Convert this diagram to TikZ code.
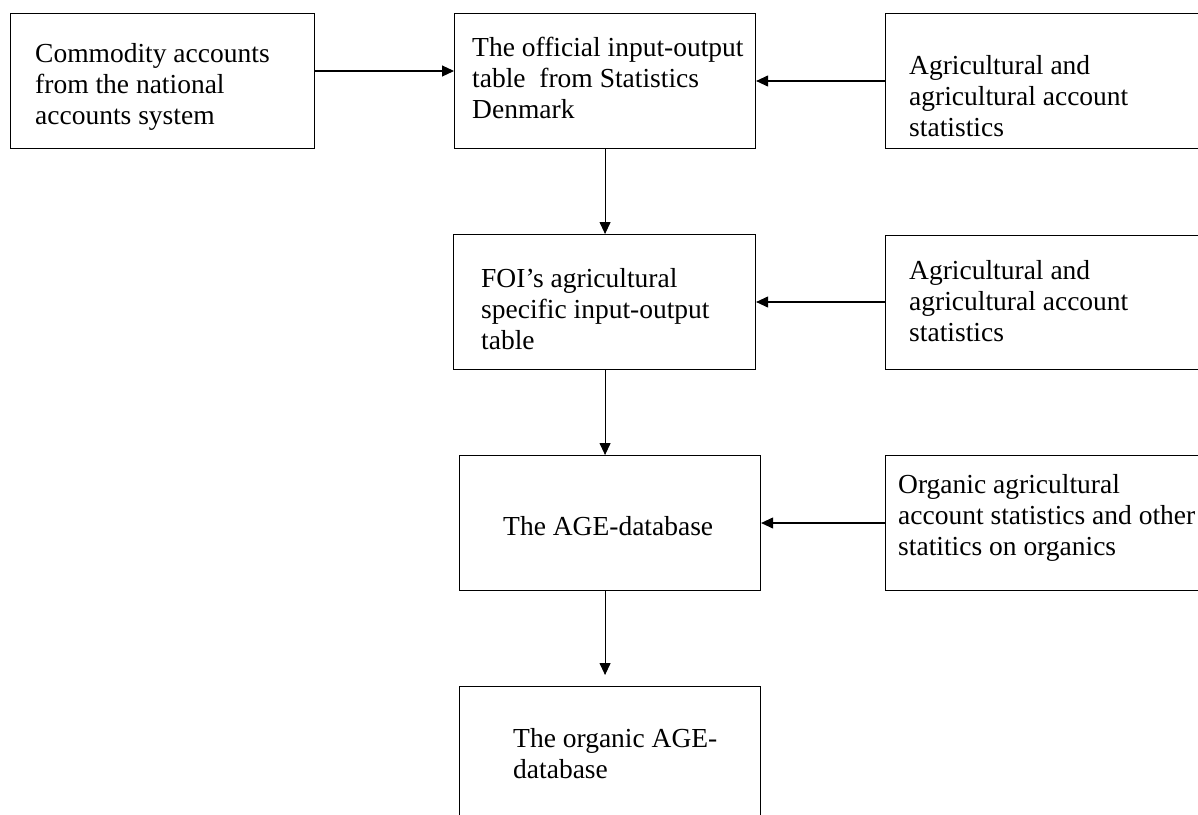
\documentclass[tikz,border=0pt]{standalone}
\usepackage{fontspec}
\setmainfont{Liberation Serif}
\usetikzlibrary{arrows.meta}
\newcommand{\boxFont}[0]{\fontsize{27.5}{31}\selectfont}

\begin{document}
\begin{tikzpicture}[x=1pt, y=-1pt]
  \tikzset{box/.style={draw, line width=1.1pt, inner sep=0pt, anchor=north west},
    txt/.style={font=\boxFont, align=left, anchor=west, inner sep=0pt},
    feed/.style={-{Triangle[length=12pt,width=11pt]}, line width=1.1pt}}
  \useasboundingbox (0,0) rectangle (1198,814);
  \clip (0,0) rectangle (1198,814);
  % boxes
  \node[box, minimum width=304pt, minimum height=135pt] (SRC-1) at (10,13) {};
  \node[box, minimum width=301pt, minimum height=135pt] (IO-1) at (454,13) {};
  \node[box, minimum width=315pt, minimum height=135pt] (SRC-2) at (885,13) {};
  \node[box, minimum width=302pt, minimum height=135pt] (IO-2) at (453,234) {};
  \node[box, minimum width=315pt, minimum height=134pt] (SRC-3) at (885,235) {};
  \node[box, minimum width=301pt, minimum height=135pt] (DB-1) at (459,455) {};
  \node[box, minimum width=315pt, minimum height=135pt] (SRC-4) at (885,455) {};
  \node[box, minimum width=301pt, minimum height=150pt] (DB-2) at (459,686) {};
  % texts
  \node[txt] (SRC-1-t) at (35,87) {Commodity accounts\\from the national\\accounts system};
  \node[txt] (IO-1-t) at (472,78) {The official input-output\\table~ from Statistics\\Denmark};
  \node[txt] (SRC-2-t) at (909,96) {Agricultural and\\agricultural account\\statistics};
  \node[txt] (IO-2-t) at (481,309) {FOI’s agricultural\\specific input-output\\table};
  \node[txt] (SRC-3-t) at (909,301) {Agricultural and\\agricultural account\\statistics};
  \node[txt] (DB-1-t) at (503,526) {The AGE-database};
  \node[txt] (SRC-4-t) at (898,518) {Organic agricultural\\account statistics and other\\statitics on organics};
  \node[txt] (DB-2-t) at (513,754) {The organic AGE-\\database};
  % arrows
  \draw[feed] (SRC-1.east |- 0,71) -- (IO-1.west |- 0,71);
  \draw[feed] (SRC-2.west |- 0,81) -- (IO-1.east |- 0,81);
  \draw[feed] (IO-1.south) -- (IO-2.north -| IO-1.south);
  \draw[feed] (SRC-3.west |- 0,302) -- (IO-2.east |- 0,302);
  \draw[feed] (IO-2.south -| IO-1.south) -- (DB-1.north -| IO-1.south);
  \draw[feed] (SRC-4.west |- 0,523) -- (DB-1.east |- 0,523);
  \draw[feed, shorten >=11pt] (DB-1.south -| IO-1.south) -- (DB-2.north -| IO-1.south);
\end{tikzpicture}
\end{document}
